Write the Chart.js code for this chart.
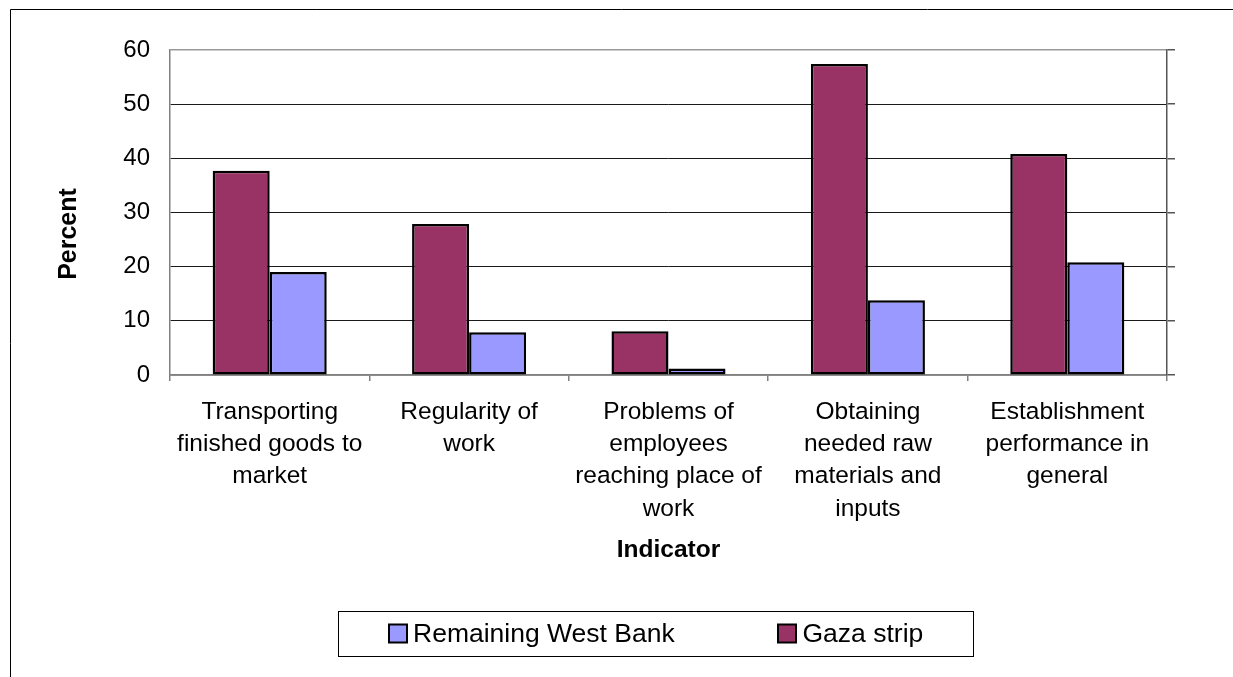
<!DOCTYPE html>
<html>
<head>
<meta charset="utf-8">
<script src="https://cdn.jsdelivr.net/npm/chart.js@4.4.1/dist/chart.umd.min.js"></script>
<style>
  html, body { margin: 0; padding: 0; background: #fff; overflow: hidden; }
  canvas { display: block; }
</style>
</head>
<body>
<canvas id="c" width="1233" height="677"></canvas>
<script>
// ---- data ----
const categories = [
  ["Transporting", "finished goods to", "market"],
  ["Regularity of", "work"],
  ["Problems of", "employees", "reaching place of", "work"],
  ["Obtaining", "needed raw", "materials and", "inputs"],
  ["Establishment", "performance in", "general"]
];
const gazaStrip = [37.7, 27.9, 8.1, 57.4, 40.8];
const remainingWestBank = [19.0, 7.9, 1.2, 13.8, 20.8];
const yTickMin = 0;
const yTickMax = 60;
const yTickStep = 10;
const seriesNames = ["Gaza strip", "Remaining West Bank"];
const yTitle = "Percent";
const xTitle = "Indicator";

const FONT = "'Liberation Sans', Arial, Helvetica, sans-serif";
Chart.defaults.font.family = FONT;
Chart.defaults.color = '#000';

const framePlugin = {
  id: 'frame',
  beforeDraw(chart) {
    const ctx = chart.ctx;
    ctx.save();
    ctx.fillStyle = '#fff';
    ctx.fillRect(0, 0, chart.width, chart.height);
    ctx.strokeStyle = '#000';
    ctx.lineWidth = 1;
    ctx.beginPath();
    ctx.moveTo(10.5, chart.height);
    ctx.lineTo(10.5, 9.5);
    ctx.lineTo(chart.width, 9.5);
    ctx.stroke();
    ctx.restore();
  }
};

const extrasPlugin = {
  id: 'extras',
  afterDraw(chart) {
    const ctx = chart.ctx;
    ctx.save();
    // y axis title
    ctx.translate(69, 234);
    ctx.rotate(-Math.PI / 2);
    ctx.font = "bold 25px " + FONT;
    ctx.fillStyle = '#000';
    ctx.textAlign = 'center';
    ctx.textBaseline = 'middle';
    ctx.fillText(yTitle, 0, 0);
    ctx.restore();

    // legend box
    ctx.save();
    ctx.strokeStyle = '#000';
    ctx.lineWidth = 1;
    ctx.strokeRect(338.5, 611.5, 635, 45);
    const items = [
      { ds: chart.data.datasets[1], sx: 389, tx: 413 },
      { ds: chart.data.datasets[0], sx: 778, tx: 802.5 }
    ];
    ctx.font = "26.5px " + FONT;
    ctx.textBaseline = 'alphabetic';
    ctx.textAlign = 'left';
    items.forEach(it => {
      ctx.fillStyle = it.ds.backgroundColor;
      ctx.fillRect(it.sx, 624.5, 18, 18);
      ctx.lineWidth = 2;
      ctx.strokeStyle = '#000';
      ctx.strokeRect(it.sx, 624.5, 18, 18);
      ctx.fillStyle = '#000';
      ctx.fillText(it.ds.label, it.tx, 642);
    });
    ctx.restore();
  }
};

new Chart(document.getElementById('c'), {
  type: 'bar',
  data: {
    labels: categories,
    datasets: [
      {
        label: seriesNames[0],
        data: gazaStrip,
        backgroundColor: '#993366',
        borderColor: '#000',
        borderWidth: 2.5,
        borderSkipped: false,
        categoryPercentage: 0.572,
        barPercentage: 1.0,
        yAxisID: 'y'
      },
      {
        label: seriesNames[1],
        data: remainingWestBank,
        backgroundColor: '#9999FF',
        borderColor: '#000',
        borderWidth: 2.5,
        borderSkipped: false,
        categoryPercentage: 0.572,
        barPercentage: 1.0,
        yAxisID: 'y'
      }
    ]
  },
  options: {
    responsive: false,
    animation: false,
    devicePixelRatio: 1,
    layout: { padding: { top: 50, bottom: 90, left: 0, right: 0 } },
    plugins: {
      legend: { display: false },
      tooltip: { enabled: false },
      title: { display: false }
    },
    scales: {
      x: {
        position: 'bottom',
        afterFit(scale) { scale.height = 212; },
        ticks: {
          font: { size: 24.5, lineHeight: 1.32 },
          color: '#000',
          padding: 14.75,
          autoSkip: false,
          maxRotation: 0,
          minRotation: 0
        },
        grid: {
          display: true,
          drawOnChartArea: false,
          drawTicks: true,
          tickLength: 6,
          color: '#808080',
          lineWidth: 1.5,
          offset: true
        },
        border: { display: true, color: '#808080', width: 1.5 },
        title: {
          display: true,
          text: xTitle,
          font: { size: 24.5, weight: 'bold', lineHeight: 1.2 },
          color: '#000',
          padding: { top: 0, bottom: 21.6 }
        }
      },
      y: {
        position: 'left',
        min: yTickMin,
        max: yTickMax,
        afterFit(scale) { scale.width = 170; },
        ticks: {
          stepSize: yTickStep,
          font: { size: 24 },
          color: '#000',
          padding: 20
        },
        grid: {
          drawTicks: false,
          color: (c) => (c.tick && (c.tick.value === yTickMax || c.tick.value === yTickMin)) ? '#999999' : '#1a1a1a',
          lineWidth: (c) => (c.tick && c.tick.value === yTickMax) ? 1.5 : 1
        },
        border: { display: true, color: '#808080', width: 1.5 }
      },
      y2: {
        display: true,
        position: 'right',
        min: yTickMin,
        max: yTickMax,
        afterFit(scale) { scale.width = 66; },
        ticks: { display: false, stepSize: yTickStep },
        grid: {
          drawOnChartArea: false,
          drawTicks: true,
          tickLength: 8,
          color: '#555555',
          lineWidth: 1.5
        },
        border: { display: true, color: '#555555', width: 1.5 }
      }
    }
  },
  plugins: [framePlugin, extrasPlugin]
});
</script>
</body>
</html>
